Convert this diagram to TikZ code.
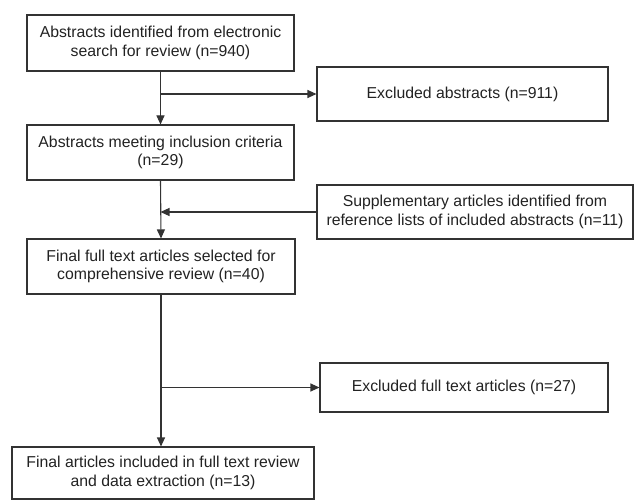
\documentclass[tikz,border=0pt]{standalone}
\usepackage{fontspec}
\setmainfont{Liberation Sans}
\usetikzlibrary{arrows.meta}
\definecolor{linec}{HTML}{333333}
\definecolor{textc}{HTML}{222222}
\begin{document}
\begin{tikzpicture}[x=1pt,y=-1pt,
  box/.style={draw=linec, line width=1.1pt, text=textc, align=center, inner sep=0pt,
    font=\fontsize{15.8}{18.5}\selectfont},
  arr/.style={draw=linec, line width=1.1pt, -{Triangle[length=9pt,width=8pt]}},
  ln/.style={draw=linec, line width=1.1pt}]
\useasboundingbox (0,0) rectangle (634,500);
\node[box, minimum width=267pt, minimum height=56pt] (b1) at (160.5,43)
  {Abstracts identified from electronic\\search for review (n=940)};
\node[box, minimum width=267pt, minimum height=55pt] (b2) at (160.5,152.5)
  {Abstracts meeting inclusion criteria\\(n=29)};
\node[box, minimum width=268pt, minimum height=55pt] (b3) at (161,266.5)
  {Final full text articles selected for\\comprehensive review (n=40)};
\node[box, minimum width=302pt, minimum height=52pt] (b4) at (163,473)
  {Final articles included in full text review\\and data extraction (n=13)};
\node[box, minimum width=291pt, minimum height=54pt] (e1) at (462.5,94)
  {Excluded abstracts (n=911)};
\node[box, minimum width=316pt, minimum height=54pt] (s) at (475,212)
  {Supplementary articles identified from\\reference lists of included abstracts (n=11)};
\node[box, minimum width=288pt, minimum height=49pt] (e2) at (464,387.5)
  {Excluded full text articles (n=27)};

\draw[arr] (b1.south) -- (b2.north);
\coordinate (j1) at (b1.south |- e1.west);
\draw[arr] (j1) -- (e1.west);

\draw[arr] (b2.south) -- (b3.north);
\coordinate (j2) at (b2.south |- s.west);
\draw[arr] (s.west) -- (j2);

\coordinate (j4) at (b3.south |- b4.north);
\draw[arr] (b3.south) -- (j4);
\coordinate (j3) at (b3.south |- e2.west);
\draw[arr] (j3) -- (e2.west);
\end{tikzpicture}
\end{document}
